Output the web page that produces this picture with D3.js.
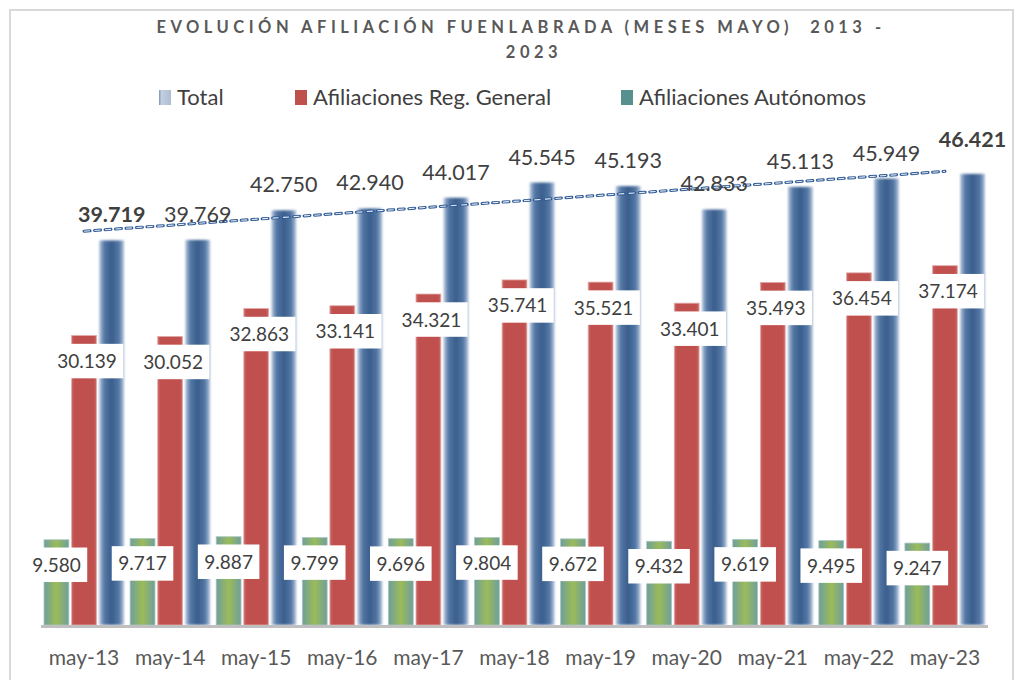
<!DOCTYPE html>
<html>
<head>
<meta charset="utf-8">
<script src="https://cdn.jsdelivr.net/npm/d3@7"></script>
<style>
  body { margin: 0; background: #fff; }
  svg text { font-family: Lato, "Open Sans", sans-serif; }
</style>
</head>
<body>
<div id="chart"></div>
<script>
// data
var categories = ["may-13", "may-14", "may-15", "may-16", "may-17", "may-18", "may-19", "may-20", "may-21", "may-22", "may-23"];
var autonomos  = [9580, 9717, 9887, 9799, 9696, 9804, 9672, 9432, 9619, 9495, 9247];
var regGeneral = [30139, 30052, 32863, 33141, 34321, 35741, 35521, 33401, 35493, 36454, 37174];
var total      = [39719, 39769, 42750, 42940, 44017, 45545, 45193, 42833, 45113, 45949, 46421];
var seriesNames = ["Total", "Afiliaciones Reg. General", "Afiliaciones Autónomos"];

// label nudges (layout only)
var totalLabelNudge = [0, 0, 0, 0, 0, 0, 0, 0, 0, 0, -9];
var boldTotal = [true, false, false, false, false, false, false, false, false, false, true];

var width = 1022, height = 680;
var fmt = d3.formatLocale({decimal: ",", thousands: ".", grouping: [3], currency: ["", "€"]}).format(",d");

var svg = d3.select("#chart").append("svg")
    .attr("width", width)
    .attr("height", height);

var defs = svg.append("defs");

function hGrad(id, stops) {
    var g = defs.append("linearGradient").attr("id", id)
        .attr("x1", 0).attr("x2", 1).attr("y1", 0).attr("y2", 0);
    stops.forEach(function(s) {
        g.append("stop").attr("offset", s[0]).attr("stop-color", s[1]);
    });
}
hGrad("gGreen", [[0, "#6f9f9b"], [0.5, "#9bbb59"], [1, "#6f9f9b"]]);
hGrad("gRed", [[0, "#c96a67"], [0.12, "#c0504d"], [0.88, "#c0504d"], [1, "#c96a67"]]);
hGrad("gBlue", [[0, "#b6c6dc"], [0.2, "#5478a6"], [0.5, "#3a5e8c"], [0.8, "#5478a6"], [1, "#b6c6dc"]]);
hGrad("gLegTotal", [[0, "#7d93b5"], [0.2, "#c3cfe0"], [1, "#aebdd4"]]);

defs.append("filter").attr("id", "soft")
    .append("feGaussianBlur").attr("stdDeviation", 1.1);

// frame
svg.append("rect")
    .attr("x", 10).attr("y", 10)
    .attr("width", 1003).attr("height", 700)
    .attr("fill", "none")
    .attr("stroke", "#d9d9d9")
    .attr("stroke-width", 2);

// title
svg.append("text")
    .attr("x", 521).attr("y", 33)
    .attr("text-anchor", "middle")
    .style("white-space", "pre")
    .attr("font-size", 16.5).attr("font-weight", "bold")
    .attr("letter-spacing", 4.5)
    .attr("fill", "#595959")
    .text("EVOLUCIÓN AFILIACIÓN FUENLABRADA (MESES MAYO)  2013 -");
svg.append("text")
    .attr("x", 534).attr("y", 58)
    .attr("text-anchor", "middle")
    .attr("font-size", 16.5).attr("font-weight", "bold")
    .attr("letter-spacing", 4.5)
    .attr("fill", "#595959")
    .text("2023");

// legend
var legendX = [159, 295, 621];
var legendFill = ["url(#gLegTotal)", "#c0504d", "#56908f"];
var legend = svg.append("g").selectAll("g")
    .data(seriesNames)
    .enter().append("g")
    .attr("transform", function(d, i) { return "translate(" + legendX[i] + ",0)"; });
legend.append("rect")
    .attr("x", 0).attr("y", 90)
    .attr("width", 12).attr("height", 15)
    .attr("fill", function(d, i) { return legendFill[i]; });
legend.append("text")
    .attr("x", 18).attr("y", 105)
    .attr("font-size", 22)
    .attr("fill", "#404040")
    .text(function(d) { return d; });

// scales
var x0 = d3.scaleBand().domain(categories).range([41, 988])
    .paddingInner(0.07).paddingOuter(0.035);
var x1 = d3.scaleBand().domain(["aut", "gen", "tot"]).range([0, x0.bandwidth()])
    .paddingInner(0.1);
var y = d3.scaleLinear().domain([1000, 50000]).range([625, 138.3]);

var rows = categories.map(function(c, i) {
    return {cat: c, aut: autonomos[i], gen: regGeneral[i], tot: total[i], i: i};
});

// bars
var groups = svg.append("g").selectAll("g")
    .data(rows)
    .enter().append("g")
    .attr("transform", function(d) { return "translate(" + x0(d.cat) + ",0)"; });

groups.append("rect")
    .attr("x", x1("aut")).attr("width", x1.bandwidth())
    .attr("y", function(d) { return y(d.aut); })
    .attr("height", function(d) { return y(1000) - y(d.aut); })
    .attr("fill", "url(#gGreen)")
    .attr("stroke", "#a9c6c4").attr("stroke-width", 0.8);

groups.append("rect")
    .attr("x", x1("gen")).attr("width", x1.bandwidth())
    .attr("y", function(d) { return y(d.gen); })
    .attr("height", function(d) { return y(1000) - y(d.gen); })
    .attr("fill", "url(#gRed)")
    .attr("stroke", "#e3aaa8").attr("stroke-width", 0.8);

groups.append("rect")
    .attr("x", x1("tot")).attr("width", x1.bandwidth())
    .attr("y", function(d) { return y(d.tot); })
    .attr("height", function(d) { return y(1000) - y(d.tot); })
    .attr("fill", "url(#gBlue)")
    .attr("filter", "url(#soft)");

// axis
svg.append("line")
    .attr("x1", 41).attr("x2", 988)
    .attr("y1", 626.5).attr("y2", 626.5)
    .attr("stroke", "#bfbfbf").attr("stroke-width", 3);

var xAxis = svg.append("g")
    .attr("transform", "translate(0,626)")
    .call(d3.axisBottom(x0).tickSize(0).tickPadding(24));
xAxis.select(".domain").remove();
xAxis.selectAll("text")
    .attr("font-size", 21)
    .attr("font-family", "Lato, 'Open Sans', sans-serif")
    .attr("fill", "#595959");

// linear trendline of the totals
var n = total.length;
var mx = d3.mean(total, function(d, i) { return i; });
var my = d3.mean(total);
var sxy = d3.sum(total, function(d, i) { return (i - mx) * (d - my); });
var sxx = d3.sum(total, function(d, i) { return (i - mx) * (i - mx); });
var slope = sxy / sxx, icpt = my - slope * mx;
var trend = [0, n - 1].map(function(i) {
    return [x0(categories[i]) + x0.bandwidth() / 2, y(icpt + slope * i)];
});
var trendLine = d3.line();
svg.append("path")
    .attr("d", trendLine(trend))
    .attr("fill", "none")
    .attr("stroke", "#2f5a94").attr("stroke-width", 3)
    .attr("stroke-linecap", "round")
    .attr("stroke-dasharray", "6 4.5");
svg.append("path")
    .attr("d", trendLine(trend))
    .attr("fill", "none")
    .attr("stroke", "#e4ebf5").attr("stroke-width", 1.1)
    .attr("stroke-dasharray", "6 4.5");

// boxed labels for general and autonomos
function boxedLabel(sel, key, dx, dyTop) {
    var g = sel.append("g")
        .attr("transform", function(d) {
            return "translate(" + (x1(key) + x1.bandwidth() / 2 + dx) + "," + (y(d[key]) + dyTop + 17) + ")";
        });
    g.append("text")
        .attr("text-anchor", "middle")
        .attr("y", 7)
        .attr("font-size", 19)
        .attr("fill", "#404040")
        .text(function(d) { return fmt(d[key]); });
    g.insert("rect", "text")
        .attr("fill", "#fff")
        .attr("height", 34.5)
        .attr("y", -17.25)
        .each(function() {
            var w = this.parentNode.querySelector("text").getComputedTextLength() + 13;
            d3.select(this).attr("width", w).attr("x", -w / 2);
        });
}

var labelGroups = svg.append("g").selectAll("g")
    .data(rows)
    .enter().append("g")
    .attr("transform", function(d) { return "translate(" + x0(d.cat) + ",0)"; });

boxedLabel(labelGroups, "gen", 3, 8.5);
boxedLabel(labelGroups, "aut", 0, 8);

labelGroups.append("text")
    .attr("x", x1("tot") + x1.bandwidth() / 2)
    .attr("y", function(d) { return y(d.tot) - 18 + totalLabelNudge[d.i]; })
    .attr("text-anchor", "middle")
    .attr("font-size", 21.5)
    .attr("font-weight", function(d) { return boldTotal[d.i] ? "bold" : "normal"; })
    .attr("fill", "#404040")
    .text(function(d) { return fmt(d.tot); });
</script>
</body>
</html>
